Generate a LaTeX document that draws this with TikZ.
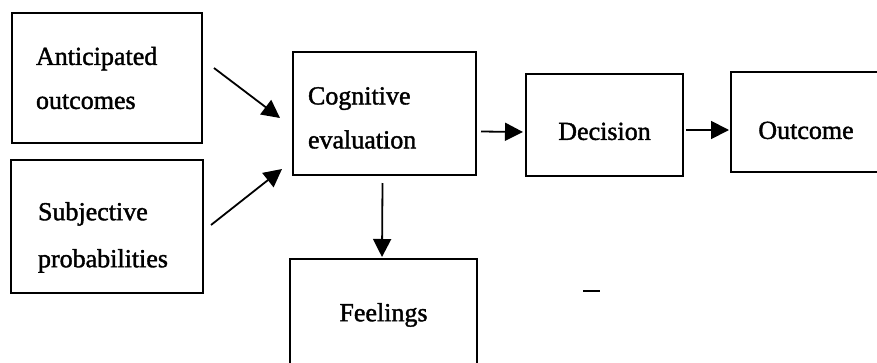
\documentclass[tikz,border=0pt]{standalone}
\usepackage{fontspec}
\setmainfont[FakeBold=1.5]{Liberation Serif}
\usetikzlibrary{arrows.meta,calc}
\begin{document}
\begin{tikzpicture}[x=1pt,y=-1pt,
  box/.style={draw,line width=2pt,rectangle,font=\fontsize{26}{44}\selectfont,inner ysep=0pt},
  lbox/.style={box,align=left},
  conn/.style={line width=1.8pt,-{Triangle[length=18pt,width=18pt]}}]
\useasboundingbox (0,0) rectangle (877,362);
\node[lbox,text width=142pt,inner xsep=24pt,minimum height=130pt] (A) at (107,78) {Anticipated\\outcomes};
\node[lbox,text width=138pt,inner xsep=27pt,minimum height=133pt,font=\fontsize{26}{47}\selectfont] (S) at (107,226.5) {\rule{0pt}{40pt}Subjective\\probabilities};
\node[lbox,text width=153pt,inner xsep=15pt,minimum height=123pt] (C) at (384.5,113.5) {\rule{0pt}{26pt}Cognitive\\evaluation};
\node[box,align=center,minimum width=157pt,minimum height=102pt] (D) at (604.5,125) {\rule{0pt}{30pt}Decision};
\node[box,align=center,minimum width=150pt,minimum height=100pt] (O) at (806,122) {\rule{0pt}{34pt}Outcome};
\node[box,align=center,minimum width=187pt,minimum height=112pt] (F) at (383.5,315) {Feelings};
\draw[conn] ($(A.east)+(11,-10)$) -- ($(C.west)+(-12,4.5)$);
\draw[conn] ($(S.east)+(7,-1.5)$) -- ($(C.west)+(-10,55.5)$);
\draw[conn] ($(C.east)+(4,18)$) -- ($(D.west)+(-2,7)$);
\draw[conn] ($(D.east)+(2,5)$) -- ($(O.west)+(-1,8)$);
\draw[conn] ($(C.south)+(-2,7)$) -- ($(F.north)+(-1.5,-1)$);
\draw[line width=1.5pt] (583,291) -- (600,291);
\end{tikzpicture}
\end{document}
